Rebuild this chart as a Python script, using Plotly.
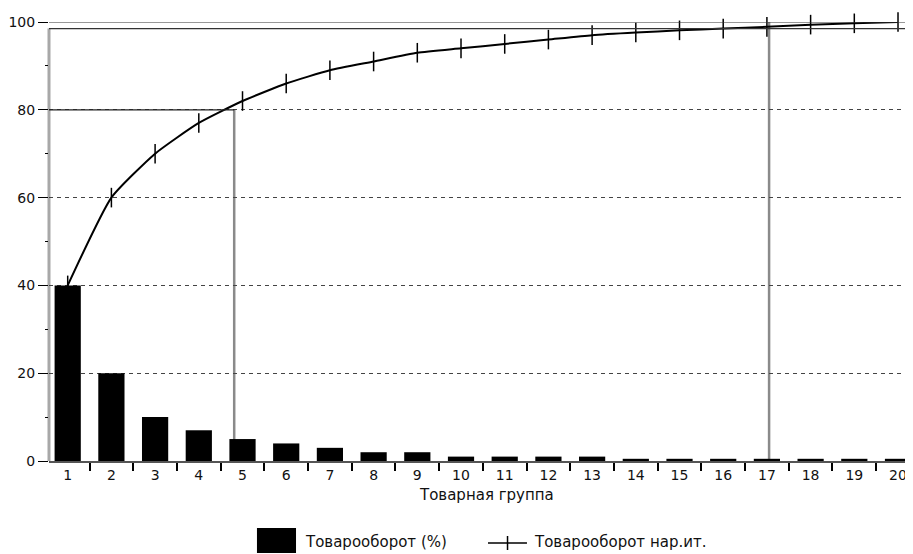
import plotly.graph_objects as go

# ---- data ----
groups = [str(i) for i in range(1, 21)]
turnover_pct = [40, 20, 10, 7, 5, 4, 3, 2, 2, 1, 1, 1, 1, 0.5, 0.5, 0.5, 0.5, 0.5, 0.5, 0.5]
cumulative = [40, 60, 70, 77, 82, 86, 89, 91, 93, 94, 95, 96, 97, 97.6, 98.1, 98.5, 98.9, 99.4, 99.7, 100]
y_ticks = [0, 20, 40, 60, 80, 100]

bar_name = "Товарооборот (%)"
line_name = "Товарооборот нар.ит."
x_title = "Товарная группа"

# reference-line positions (category index scale: group 1 -> 0)
ref80_level = 80
ref80_x = 3.81
ref_top_level = 98.5
ref17_x = 16.05

X_RANGE = [-0.428, 19.343]
FONT = "DejaVu Sans"

fig = go.Figure()
fig.add_trace(go.Bar(x=groups, y=turnover_pct, name=bar_name, width=0.6,
                     marker=dict(color="black", line=dict(width=0)), showlegend=False))
fig.add_trace(go.Scatter(x=groups, y=cumulative, name=line_name, mode="lines+markers",
                         line=dict(color="black", width=2, shape="spline", smoothing=0.5),
                         marker=dict(symbol="line-ns", size=14, color="black",
                                     line=dict(color="black", width=1.5)),
                         cliponaxis=False, showlegend=False))

span = X_RANGE[1] - X_RANGE[0]
shapes = [
    # gray left axis
    dict(type="line", xref="paper", yref="y", x0=0, x1=0, y0=0, y1=ref_top_level,
         line=dict(color="#a8a8a8", width=3), layer="below"),
    # top lines
    dict(type="line", xref="paper", yref="y", x0=0, x1=1, y0=100, y1=100,
         line=dict(color="#333", width=1.2)),
    dict(type="line", xref="paper", yref="y", x0=0, x1=1, y0=ref_top_level, y1=ref_top_level,
         line=dict(color="#333", width=1.2)),
    # 80% solid segment
    dict(type="line", xref="paper", yref="y", x0=0, x1=(ref80_x - X_RANGE[0]) / span,
         y0=ref80_level, y1=ref80_level, line=dict(color="#222", width=1.2)),
    # vertical reference lines
    dict(type="line", xref="x", yref="y", x0=ref80_x, x1=ref80_x, y0=0, y1=ref80_level,
         line=dict(color="#8a8a8a", width=2.5), layer="below"),
    dict(type="line", xref="x", yref="y", x0=ref17_x, x1=ref17_x, y0=0, y1=100,
         line=dict(color="#8a8a8a", width=2.5), layer="below"),
    # custom legend
    dict(type="rect", xref="paper", yref="paper", x0=0.2407, x1=0.2859, y0=-0.2096, y1=-0.1526,
         fillcolor="black", line=dict(width=0)),
    dict(type="line", xref="paper", yref="paper", x0=0.5081, x1=0.5532, y0=-0.1868, y1=-0.1868,
         line=dict(color="black", width=1.5)),
    dict(type="line", xref="paper", yref="paper", x0=0.5307, x1=0.5307, y0=-0.1868 - 0.016, y1=-0.1868 + 0.016,
         line=dict(color="black", width=1.5)),
]

annotations = [
    dict(text=x_title, xref="paper", yref="paper", x=0.5058, y=-0.0774, showarrow=False,
         xanchor="center", yanchor="middle", font=dict(family=FONT, size=15, color="#111")),
    dict(text=bar_name, xref="paper", yref="paper", x=0.294, y=-0.1845, showarrow=False,
         xanchor="left", yanchor="middle", font=dict(family=FONT, size=15, color="#111")),
    dict(text=line_name, xref="paper", yref="paper", x=0.559, y=-0.1845, showarrow=False,
         xanchor="left", yanchor="middle", font=dict(family=FONT, size=15, color="#111")),
]

# page body has an 8px default margin, so the figure is sized to fit inside the window
fig.update_layout(
    width=905, height=546,
    margin=dict(l=41, r=0, t=14, b=93, pad=0),
    paper_bgcolor="white", plot_bgcolor="white",
    font=dict(family=FONT, size=14, color="#111"),
    shapes=shapes,
    annotations=annotations,
    showlegend=False,
    xaxis=dict(type="category", range=X_RANGE, tickson="boundaries",
               ticks="outside", ticklen=8, tickwidth=1.5, tickcolor="black",
               showgrid=False, showline=True, linecolor="#555", linewidth=2,
               zeroline=False, tickfont=dict(family=FONT, size=14)),
    yaxis=dict(range=[0, 100], tickvals=y_ticks, ticks="outside", ticklen=10,
               tickwidth=1.2, tickcolor="black", showline=False, zeroline=False,
               showgrid=True, gridcolor="#444", gridwidth=1, griddash="4px,4px",
               minor=dict(dtick=10, ticks="outside", ticklen=3, tickcolor="black", showgrid=False),
               tickfont=dict(family=FONT, size=14)),
)

fig.write_html("out.html")
